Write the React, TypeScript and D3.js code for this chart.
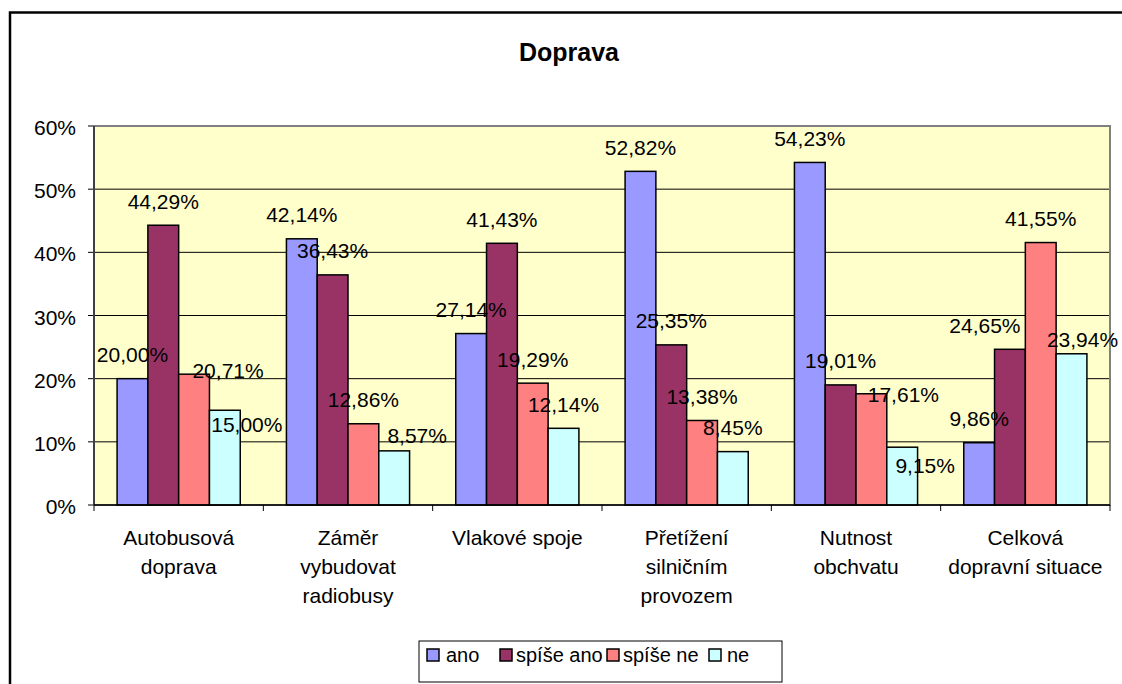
import React from "react";
import * as d3 from "d3";

// ---- data ----
const categories: string[][] = [
  ["Autobusová", "doprava"],
  ["Záměr", "vybudovat", "radiobusy"],
  ["Vlakové spoje"],
  ["Přetížení", "silničním", "provozem"],
  ["Nutnost", "obchvatu"],
  ["Celková", "dopravní situace"],
];
const seriesNames = ["ano", "spíše ano", "spíše ne", "ne"];
const ano = [20.0, 42.14, 27.14, 52.82, 54.23, 9.86];
const spiseAno = [44.29, 36.43, 41.43, 25.35, 19.01, 24.65];
const spiseNe = [20.71, 12.86, 19.29, 13.38, 17.61, 41.55];
const ne = [15.0, 8.57, 12.14, 8.45, 9.15, 23.94];
const yTicks = [0, 10, 20, 30, 40, 50, 60];
const title = "Doprava";

// ---- styling / layout ----
const colors = ["#9999FF", "#993366", "#FF8080", "#CCFFFF"];
const FONT = "'Liberation Sans', Arial, sans-serif";
const FS = 21;
// manual nudges of some data labels (category index, series index, dx, dy) as in the original
const labelNudges: [number, number, number, number][] = [
  [0, 2, 34, 20],
  [0, 3, 22, 38],
  [1, 3, 23, 9],
  [4, 2, 32, 25],
  [4, 3, 23, 42],
  [5, 1, -25, 0],
  [5, 3, 11, 10],
];

export default function App() {
  const W = 1122, H = 684;
  const plot = { left: 94, right: 1110, top: 126, bottom: 505 };
  const series = [ano, spiseAno, spiseNe, ne];

  const x0 = d3
    .scaleBand<number>()
    .domain(categories.map((_, i) => i))
    .range([plot.left, plot.right])
    .padding(0);
  const x1 = d3
    .scaleBand<number>()
    .domain(seriesNames.map((_, i) => i))
    .range([0, x0.bandwidth()])
    .paddingInner(0)
    .paddingOuter(0.75);
  const y = d3.scaleLinear().domain([0, 60]).range([plot.bottom, plot.top]);

  const fmt = (v: number) => v.toFixed(2).replace(".", ",") + "%";
  const nudge = (c: number, s: number) => {
    const n = labelNudges.find((d) => d[0] === c && d[1] === s);
    return n ? [n[2], n[3]] : [0, 0];
  };

  const catEdges = categories.map((_, i) => x0(i)!).concat([plot.right]);

  return (
    <svg
      width={W}
      height={H}
      style={{ position: "absolute", left: 0, top: 0, background: "#fff" }}
      fontFamily={FONT}
    >
      {/* outer chart frame (partly out of view) */}
      <rect x={10} y={12.5} width={W + 20} height={H + 20} fill="#fff" stroke="#000" strokeWidth={2.5} />

      {/* title */}
      <text x={569} y={61} textAnchor="middle" fontSize={25} fontWeight="bold" fill="#000">
        {title}
      </text>

      {/* plot area */}
      <rect
        x={plot.left}
        y={plot.top}
        width={plot.right - plot.left}
        height={plot.bottom - plot.top}
        fill="#FFFFCC"
      />
      {yTicks.map((t) => (
        <g key={t}>
          {t > 0 && t < 60 && (
            <line x1={plot.left} x2={plot.right} y1={y(t)} y2={y(t)} stroke="#000" strokeWidth={1} />
          )}
          <line x1={plot.left - 6} x2={plot.left} y1={y(t)} y2={y(t)} stroke="#000" strokeWidth={1} />
          <text x={76} y={y(t) + 9} textAnchor="end" fontSize={FS} fill="#000">
            {t + "%"}
          </text>
        </g>
      ))}
      {/* plot border */}
      <rect
        x={plot.left}
        y={plot.top}
        width={plot.right - plot.left}
        height={plot.bottom - plot.top}
        fill="none"
        stroke="#808080"
        strokeWidth={2}
      />

      {/* bars */}
      {categories.map((_, c) =>
        series.map((vals, s) => (
          <rect
            key={`b${c}-${s}`}
            x={x0(c)! + x1(s)!}
            y={y(vals[c])}
            width={x1.bandwidth()}
            height={y(0) - y(vals[c])}
            fill={colors[s]}
            stroke="#000"
            strokeWidth={1.5}
          />
        ))
      )}

      {/* axes lines */}
      <line x1={plot.left} x2={plot.left} y1={plot.top} y2={plot.bottom} stroke="#000" strokeWidth={1} />
      <line x1={plot.left} x2={plot.right} y1={plot.bottom} y2={plot.bottom} stroke="#000" strokeWidth={1.5} />
      {catEdges.map((ex, i) => (
        <line key={`ct${i}`} x1={ex} x2={ex} y1={plot.bottom} y2={plot.bottom + 6} stroke="#000" strokeWidth={1} />
      ))}

      {/* data labels */}
      {categories.map((_, c) =>
        series.map((vals, s) => {
          const [dx, dy] = nudge(c, s);
          const cx = x0(c)! + x1(s)! + x1.bandwidth() / 2 + dx;
          const cy = y(vals[c]) - 24 + dy;
          return (
            <text key={`l${c}-${s}`} x={cx} y={cy + 7.5} textAnchor="middle" fontSize={FS} fill="#000">
              {fmt(vals[c])}
            </text>
          );
        })
      )}

      {/* category labels */}
      {categories.map((lines, c) => (
        <text key={`c${c}`} textAnchor="middle" fontSize={FS} fill="#000">
          {lines.map((ln, k) => (
            <tspan key={k} x={x0(c)! + x0.bandwidth() / 2} y={545 + k * 29}>
              {ln}
            </tspan>
          ))}
        </text>
      ))}

      {/* legend */}
      <g>
        <rect x={419} y={641} width={363} height={41} fill="#fff" stroke="#000" strokeWidth={1} />
        {(() => {
          const items = [
            { sq: 427, tx: 446 },
            { sq: 500, tx: 516 },
            { sq: 607, tx: 623 },
            { sq: 709, tx: 727 },
          ];
          return seriesNames.map((n, i) => (
            <g key={n}>
              <rect x={items[i].sq} y={649} width={12} height={12} fill={colors[i]} stroke="#000" strokeWidth={1.5} />
              <text x={items[i].tx} y={662} fontSize={20} fill="#000">
                {n}
              </text>
            </g>
          ));
        })()}
      </g>
    </svg>
  );
}
